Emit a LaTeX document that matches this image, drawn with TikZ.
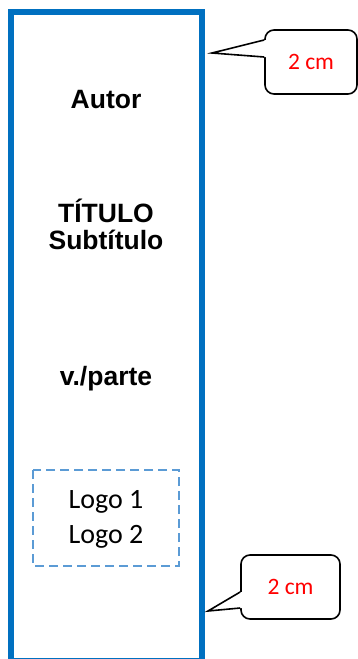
\documentclass[tikz,border=0pt]{standalone}
\usepackage{fontspec}
\setmainfont{Liberation Sans}
\newfontfamily\calibri{Carlito}
\usepackage{tikz}
\usetikzlibrary{positioning, calc}
\usepackage{xcolor}
\definecolor{spineblue}{HTML}{0070C0}
\definecolor{logoblue}{HTML}{5B9BD5}

\begin{document}
\begin{tikzpicture}[
    x=1pt, y=-1pt,
    spinetext/.style={font=\fontsize{26.5}{30}\selectfont\bfseries, anchor=base},
    logotext/.style={font=\calibri\fontsize{28}{30}\selectfont, anchor=base},
    bubble/.style={draw, line width=1.6pt, rounded corners=9pt, fill=white,
        minimum height=64pt, text=red, font=\calibri\fontsize{23.5}{26}\selectfont}
]
    \useasboundingbox (0,0) rectangle (358,659);

    % Spine
    \draw[spineblue, line width=6pt] (11,12) rectangle (201.5,661);

    % Define nodes
    \node[spinetext] (autor) at (106,108) {Autor};
    \node[spinetext] (titulo) at (106,222) {TÍTULO};
    \node[spinetext] (subtitulo) at (106,249) {Subtítulo};
    \node[spinetext] (parte) at (106,385) {v./parte};

    % Logos
    \draw[logoblue, line width=2.5pt, dash pattern=on 9pt off 5pt] (33,470) rectangle (179,566);
    \node[logotext] (logo1) at (106,508) {Logo 1};
    \node[logotext] (logo2) at (106,543) {Logo 2};

    % Callouts
    \node[bubble, minimum width=92pt] (top) at (311,62) {2 cm};
    \node[bubble, minimum width=99pt] (bottom) at (290.5,587) {2 cm};
    \coordinate (toptip) at (212,53);
    \coordinate (bottomtip) at (208,611);

    \fill[white] ($(top.west)+(2,-22)$) -- ($(top.west)+(0,-22)$) -- (toptip)
        -- ($(top.west)+(0,-5)$) -- ($(top.west)+(2,-5)$) -- cycle;
    \draw[line width=1.6pt, line join=miter] ($(top.west)+(0,-22)$) -- (toptip) -- ($(top.west)+(0,-5)$);

    \fill[white] ($(bottom.west)+(2,5)$) -- ($(bottom.west)+(0,5)$) -- (bottomtip)
        -- ($(bottom.west)+(0,21)$) -- ($(bottom.west)+(2,21)$) -- cycle;
    \draw[line width=1.6pt, line join=miter] ($(bottom.west)+(0,5)$) -- (bottomtip) -- ($(bottom.west)+(0,21)$);
\end{tikzpicture}
\end{document}
